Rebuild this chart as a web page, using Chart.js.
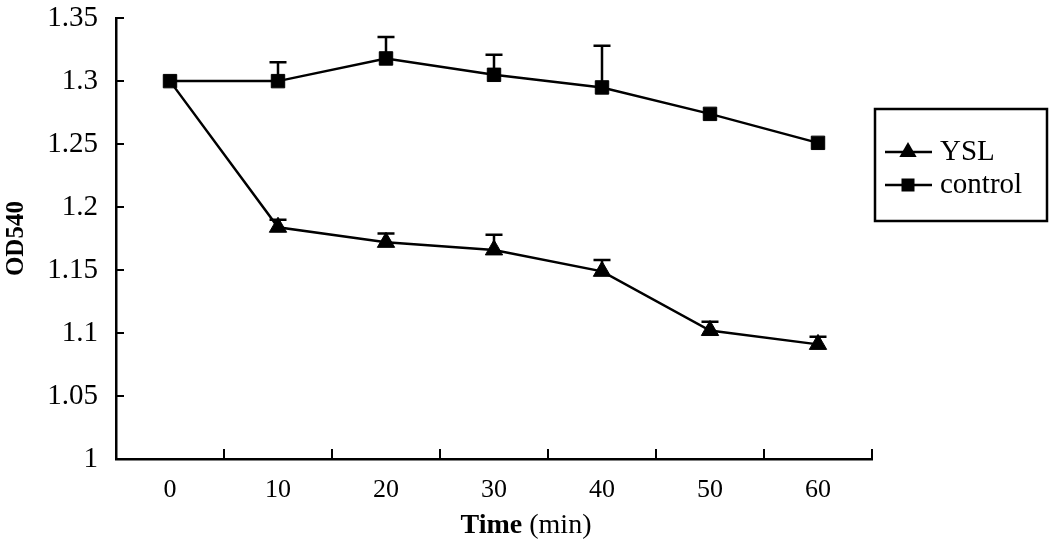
<!DOCTYPE html>
<html>
<head>
<meta charset="utf-8">
<script src="https://cdn.jsdelivr.net/npm/chart.js@4.4.1/dist/chart.umd.min.js"></script>
<style>
  html, body { margin: 0; padding: 0; background: #fff; }
  #wrap { width: 1049px; height: 545px; }
</style>
</head>
<body>
<div id="wrap"><canvas id="c" width="1049" height="545"></canvas></div>
<script>
// ---- data ----
const categories = ['0', '10', '20', '30', '40', '50', '60'];
const yslValues = [1.300, 1.184, 1.172, 1.166, 1.149, 1.102, 1.091];
const yslErrors = [0, 0.006, 0.007, 0.012, 0.009, 0.007, 0.006];
const controlValues = [1.300, 1.300, 1.318, 1.305, 1.295, 1.274, 1.251];
const controlErrors = [0, 0.015, 0.017, 0.016, 0.033, 0, 0];
const yTickValues = [1, 1.05, 1.1, 1.15, 1.2, 1.25, 1.3, 1.35];
const seriesNames = ['YSL', 'control'];
const yAxisTitle = 'OD540';
const xAxisTitleBold = 'Time';
const xAxisTitleNormal = ' (min)';

const FONT = '"Liberation Serif", "Times New Roman", serif';

function fmt(v) { return String(parseFloat(v.toFixed(2))); }

const errorBarPlugin = {
  id: 'errorBars',
  afterDatasetsDraw(chart) {
    const ctx = chart.ctx;
    const y = chart.scales.y;
    ctx.save();
    ctx.strokeStyle = '#000';
    ctx.lineWidth = 2.5;
    chart.data.datasets.forEach((ds, di) => {
      const meta = chart.getDatasetMeta(di);
      const errs = ds.errors || [];
      meta.data.forEach((pt, i) => {
        const e = errs[i];
        if (!e) return;
        const top = y.getPixelForValue(ds.data[i] + e);
        ctx.beginPath();
        ctx.moveTo(pt.x, pt.y);
        ctx.lineTo(pt.x, top);
        ctx.moveTo(pt.x - 8.5, top);
        ctx.lineTo(pt.x + 8.5, top);
        ctx.stroke();
      });
    });
    ctx.restore();
  }
};

const axisDecorPlugin = {
  id: 'axisDecor',
  afterDraw(chart) {
    const ctx = chart.ctx;
    const xs = chart.scales.x, ys = chart.scales.y;
    const area = chart.chartArea;
    ctx.save();
    ctx.strokeStyle = '#000';
    ctx.lineWidth = 2;
    // inward y ticks
    yTickValues.forEach(v => {
      const py = Math.round(ys.getPixelForValue(v));
      ctx.beginPath();
      ctx.moveTo(area.left, py);
      ctx.lineTo(area.left + 8, py);
      ctx.stroke();
    });
    // inward x ticks at category boundaries
    const n = categories.length;
    for (let i = 0; i <= n; i++) {
      let px;
      if (i === 0) px = area.left;
      else if (i === n) px = area.right;
      else px = (xs.getPixelForValue(i - 1) + xs.getPixelForValue(i)) / 2;
      px = Math.round(px);
      ctx.beginPath();
      ctx.moveTo(px, area.bottom);
      ctx.lineTo(px, area.bottom - 10);
      ctx.stroke();
    }
    // x axis title, mixed bold / normal
    ctx.fillStyle = '#000';
    ctx.textBaseline = 'middle';
    ctx.textAlign = 'left';
    const boldFont = 'bold 28px ' + FONT;
    const normFont = '28px ' + FONT;
    ctx.font = boldFont;
    const w1 = ctx.measureText(xAxisTitleBold).width;
    ctx.font = normFont;
    const w2 = ctx.measureText(xAxisTitleNormal).width;
    const cx = 526;
    const ty = area.bottom + 67;
    let sx = cx - (w1 + w2) / 2;
    ctx.font = boldFont;
    ctx.fillText(xAxisTitleBold, sx, ty);
    ctx.font = normFont;
    ctx.fillText(xAxisTitleNormal, sx + w1, ty);

    // legend box
    const lx = area.right + 3, ly = 109, lw = 172, lh = 112;
    ctx.lineWidth = 2.5;
    ctx.strokeRect(lx, ly, lw, lh);
    const entries = chart.data.datasets;
    const rowY = [ly + 43, ly + 76];
    entries.forEach((ds, i) => {
      const yy = rowY[i];
      ctx.beginPath();
      ctx.moveTo(lx + 10, yy);
      ctx.lineTo(lx + 57, yy);
      ctx.stroke();
      ctx.fillStyle = '#000';
      const mx = lx + 33;
      if (ds.pointStyle === 'triangle') {
        const r = 10;
        ctx.beginPath();
        ctx.moveTo(mx, yy - r);
        ctx.lineTo(mx + r * 0.866, yy + r / 2);
        ctx.lineTo(mx - r * 0.866, yy + r / 2);
        ctx.closePath();
        ctx.fill();
      } else {
        ctx.fillRect(mx - 6.5, yy - 6.5, 13, 13);
      }
      ctx.font = '29px ' + FONT;
      ctx.textBaseline = 'middle';
      ctx.fillText(ds.label, lx + 65, yy);
    });
    ctx.restore();
  }
};

new Chart(document.getElementById('c'), {
  type: 'line',
  data: {
    labels: categories,
    datasets: [
      {
        label: seriesNames[0],
        data: yslValues,
        errors: yslErrors,
        borderColor: '#000',
        backgroundColor: '#000',
        borderWidth: 2.5,
        pointStyle: 'triangle',
        pointRadius: yslValues.map((v, i) => i === 0 ? 0 : 10),
        pointBorderWidth: 1,
        tension: 0,
        order: 1
      },
      {
        label: seriesNames[1],
        data: controlValues,
        errors: controlErrors,
        borderColor: '#000',
        backgroundColor: '#000',
        borderWidth: 2.5,
        pointStyle: 'rect',
        pointRadius: 9.5,
        pointBorderWidth: 1,
        tension: 0,
        order: 0
      }
    ]
  },
  options: {
    responsive: false,
    animation: false,
    devicePixelRatio: 1,
    layout: { padding: { left: 0, top: 0, right: 177, bottom: 0 } },
    plugins: {
      legend: { display: false },
      tooltip: { enabled: false },
      title: { display: false }
    },
    scales: {
      x: {
        type: 'category',
        offset: true,
        grid: { display: false, drawTicks: false },
        border: { display: true, color: '#000', width: 2.5 },
        ticks: {
          color: '#000',
          font: { family: FONT, size: 26 },
          padding: 16,
          maxRotation: 0,
          autoSkip: false
        },
        afterFit(scale) { scale.height = 86; }
      },
      y: {
        min: 1,
        max: 1.35,
        grid: { display: false, drawTicks: false },
        border: { display: true, color: '#000', width: 2.5 },
        afterBuildTicks(scale) { scale.ticks = yTickValues.map(v => ({ value: v })); },
        ticks: {
          color: '#000',
          font: { family: FONT, size: 29, lineHeight: 0.01 },
          padding: 18,
          callback: (v) => fmt(v)
        },
        title: {
          display: true,
          text: yAxisTitle,
          color: '#000',
          font: { family: FONT, size: 25, weight: 'bold' },
          padding: { top: 2, bottom: 0 }
        },
        afterFit(scale) { scale.width = 116; }
      }
    }
  },
  plugins: [errorBarPlugin, axisDecorPlugin]
});
</script>
</body>
</html>
